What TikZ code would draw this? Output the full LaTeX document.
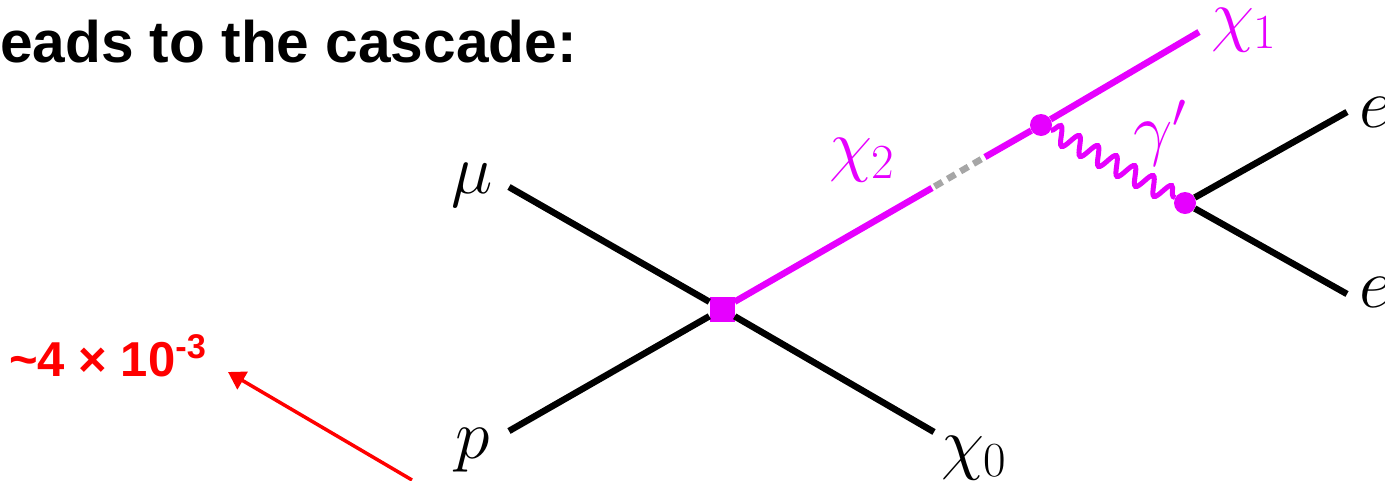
\RequirePackage{fix-cm}
\documentclass[tikz,border=0pt]{standalone}
\usepackage{fontspec}
\setmainfont{Liberation Sans}
\usepackage{tikz}
\usetikzlibrary{arrows.meta,positioning,decorations.pathmorphing}
\definecolor{accent}{HTML}{E600FF}
\definecolor{warn}{HTML}{FF0000}
\definecolor{gap}{HTML}{A6A6A6}

\begin{document}
\begin{tikzpicture}[x=1pt,y=-1pt,
  lbl/.style={inner sep=0pt,font=\fontsize{70}{70}\selectfont},
  plbl/.style={lbl,text=accent},
  fermion/.style={draw=black,line width=6.5pt},
  dark/.style={draw=accent,line width=6.5pt},
  gapline/.style={draw=gap,line width=6.5pt,dash pattern=on 9pt off 6pt,dash phase=12pt},
  photon/.style={draw=accent,line width=5pt,decorate,
    decoration={snake,amplitude=9pt,segment length=21pt}},
  vsq/.style={fill=accent,minimum size=25pt,inner sep=0pt},
  vdot/.style={circle,fill=accent,minimum size=22pt,inner sep=0pt},
  arr/.style={-{Triangle[length=17pt,width=20pt]},draw=warn,line width=3.5pt}
]
\useasboundingbox (0,0) rectangle (1385,480);
\node[vsq] (hard) at (722,309) {};
\node[vdot] (split) at (1041,125) {};
\node[vdot] (conv) at (1185,203) {};
\coordinate (muend) at (509,187);
\coordinate (pend) at (509,431);
\coordinate (zeroend) at (934,432);
\coordinate (gapa) at (932,188);
\coordinate (gapb) at (985,157);
\coordinate (oneend) at (1199,32);
\coordinate (epend) at (1347,112);
\coordinate (emend) at (1347,294);
\coordinate (arrfrom) at (412,480);
\coordinate (arrto) at (228,372);
\node[lbl] (mu) at (472,185) {$\mu$};
\node[lbl] (p) at (473,450) {$p$};
\node[lbl] (chizero) at (974,458) {$\chi_0$};
\node[plbl] (chitwo) at (862,160) {$\chi_2$};
\node[plbl] (chione) at (1244,30) {$\chi_1$};
\node[plbl] (gam) at (1160,133) {$\gamma'$};
\node[lbl] (ep) at (1375,112) {$e$};
\node[lbl] (em) at (1375,292) {$e$};
\node[anchor=base west,inner sep=0pt,font=\fontsize{58.6}{60}\selectfont\bfseries] (title) at (0,62) {eads to the cascade:};
\node[anchor=base west,inner sep=0pt,text=warn,font=\fontsize{49}{50}\selectfont\bfseries] (ratio) at (9,376) {\char`\~4 × 10\textsuperscript{-3}};
\draw[fermion] (muend) -- (hard);
\draw[fermion] (pend) -- (hard);
\draw[fermion] (hard) -- (zeroend);
\draw[fermion] (conv) -- (epend);
\draw[fermion] (conv) -- (emend);
\draw[dark] (hard) -- (gapa);
\draw[gapline] (gapa) -- (gapb);
\draw[dark] (gapb) -- (split);
\draw[dark] (split) -- (oneend);
\draw[photon] (split) -- (conv);
\draw[arr] (arrfrom) -- (arrto);
\end{tikzpicture}
\end{document}
